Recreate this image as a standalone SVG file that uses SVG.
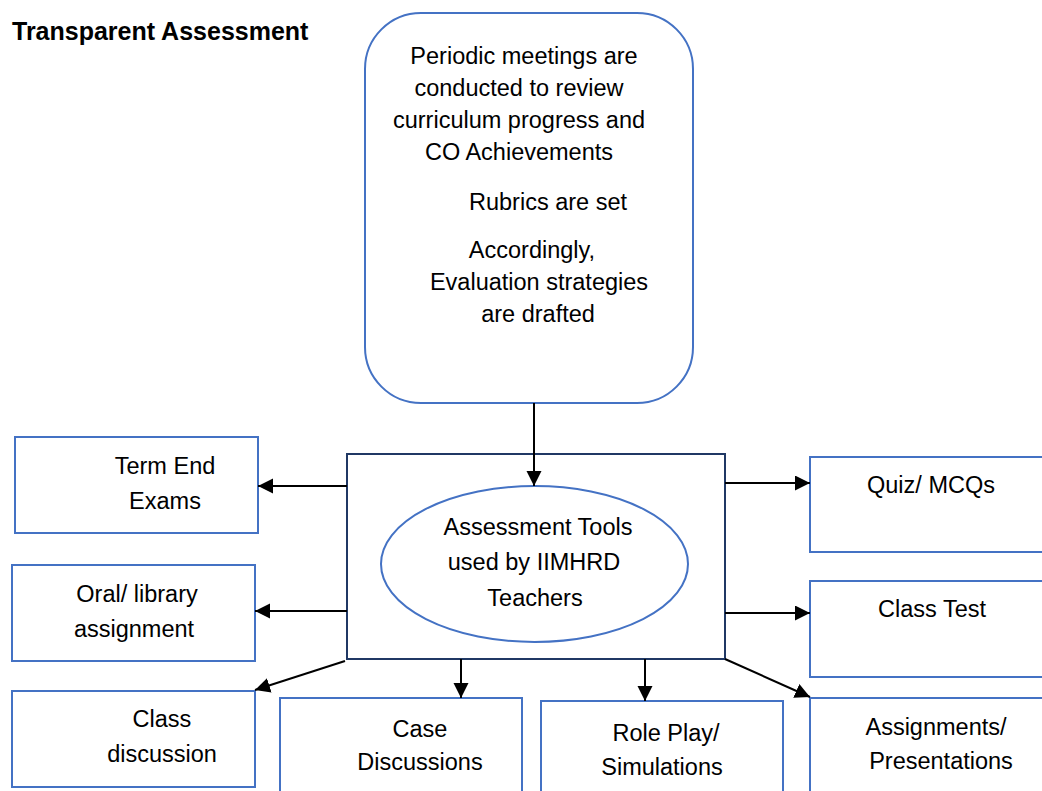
<svg xmlns="http://www.w3.org/2000/svg" width="1042" height="791" viewBox="0 0 1042 791">
<style>
.box{fill:#fff;stroke:#4472C4;stroke-width:2}
.hub{fill:#fff;stroke:#203864;stroke-width:2}
.t{font-family:"Liberation Sans",Arial,sans-serif;font-size:23.5px;fill:#000;text-anchor:middle}
.title{font-family:"Liberation Sans",Arial,sans-serif;font-size:25px;font-weight:bold;fill:#000}
.c{stroke:#000;stroke-width:2;fill:none;marker-end:url(#ah)}
</style>
<defs>
<marker id="ah" markerUnits="userSpaceOnUse" markerWidth="16" markerHeight="16" refX="15" refY="7.5" orient="auto">
<path d="M0,0 L15,7.5 L0,15 Z" fill="#000"/>
</marker>
</defs>
<rect width="1042" height="791" fill="#fff"/>
<text class="title" x="12" y="40">Transparent Assessment</text>

<g id="top">
<rect class="box" x="365" y="13" width="328" height="390" rx="56" ry="56"/>
<text class="t" x="524" y="64">Periodic meetings are</text>
<text class="t" x="519" y="96">conducted to review</text>
<text class="t" x="519" y="128">curriculum progress and</text>
<text class="t" x="519" y="160">CO Achievements</text>
<text class="t" x="548" y="210">Rubrics are set</text>
<text class="t" x="532" y="258">Accordingly,</text>
<text class="t" x="539" y="290">Evaluation strategies</text>
<text class="t" x="538" y="322">are drafted</text>
</g>

<g id="hub">
<rect class="hub" x="347" y="454" width="378" height="205"/>
<ellipse class="box" cx="534.5" cy="564" rx="153.5" ry="78"/>
<text class="t" x="538" y="535">Assessment Tools</text>
<text class="t" x="534" y="570">used by IIMHRD</text>
<text class="t" x="535" y="606">Teachers</text>
</g>

<g id="term-end">
<rect class="box" x="15" y="437" width="243" height="96"/>
<text class="t" x="165" y="474">Term End</text>
<text class="t" x="165" y="509">Exams</text>
</g>

<g id="oral">
<rect class="box" x="12" y="565" width="243" height="96"/>
<text class="t" x="137" y="602">Oral/ library</text>
<text class="t" x="134" y="637">assignment</text>
</g>

<g id="class-discussion">
<rect class="box" x="12" y="691" width="243" height="96"/>
<text class="t" x="162" y="727">Class</text>
<text class="t" x="162" y="762">discussion</text>
</g>

<g id="case">
<rect class="box" x="280" y="698" width="242" height="110"/>
<text class="t" x="420" y="737">Case</text>
<text class="t" x="420" y="770">Discussions</text>
</g>

<g id="role">
<rect class="box" x="541" y="701" width="242" height="110"/>
<text class="t" x="666" y="741">Role Play/</text>
<text class="t" x="662" y="775">Simulations</text>
</g>

<g id="assignments">
<rect class="box" x="810" y="698" width="250" height="110"/>
<text class="t" x="936" y="735">Assignments/</text>
<text class="t" x="941" y="769">Presentations</text>
</g>

<g id="quiz">
<rect class="box" x="810" y="457" width="250" height="95"/>
<text class="t" x="931" y="493">Quiz/ MCQs</text>
</g>

<g id="class-test">
<rect class="box" x="810" y="581" width="250" height="96"/>
<text class="t" x="932" y="617">Class Test</text>
</g>

<g id="connectors">
<line class="c" x1="534" y1="403" x2="534" y2="486"/>
<line class="c" x1="347" y1="486" x2="258" y2="486"/>
<line class="c" x1="347" y1="611" x2="255" y2="611"/>
<line class="c" x1="345" y1="661" x2="255" y2="690"/>
<line class="c" x1="461" y1="659" x2="461" y2="698"/>
<line class="c" x1="645" y1="659" x2="645" y2="701"/>
<line class="c" x1="725" y1="483" x2="810" y2="483"/>
<line class="c" x1="725" y1="613" x2="810" y2="613"/>
<line class="c" x1="725" y1="659" x2="810" y2="697"/>
</g>
</svg>
